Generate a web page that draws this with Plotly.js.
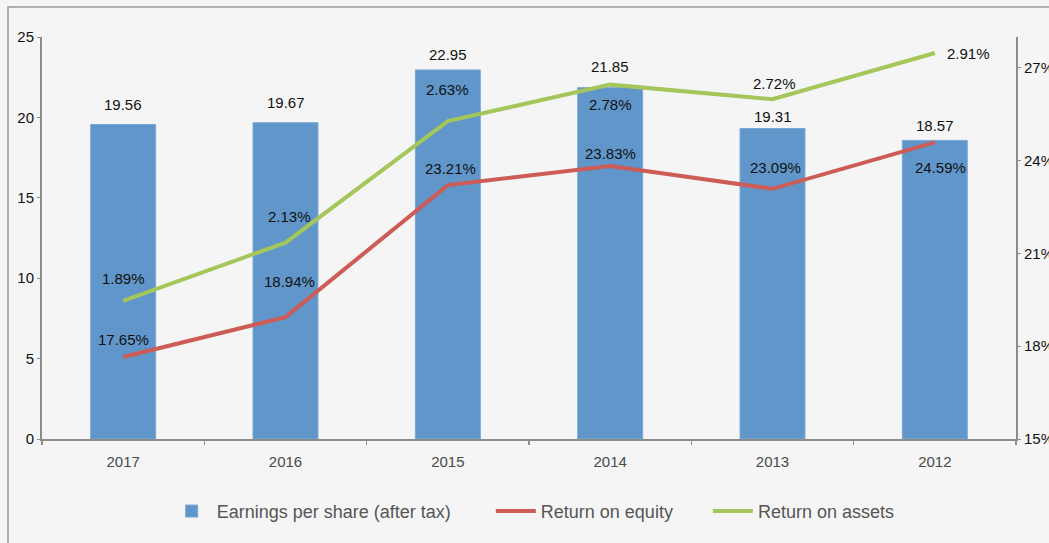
<!DOCTYPE html>
<html>
<head>
<meta charset="utf-8">
<script src="https://cdn.plot.ly/plotly-3.0.1.min.js"></script>
<style>html,body{margin:0;padding:0;background:#f5f5f5;}#chart{width:1049px;height:543px;}</style>
</head>
<body>
<div id="chart"></div>
<script>
// ---- data ----
const years = ['2017', '2016', '2015', '2014', '2013', '2012'];
const eps = [19.56, 19.67, 22.95, 21.85, 19.31, 18.57];
const roe = [17.65, 18.94, 23.21, 23.83, 23.09, 24.59];
const roa = [1.89, 2.13, 2.63, 2.78, 2.72, 2.91];
const roeTicks = [15, 18, 21, 24, 27];

// ---- label offsets (px) ----
const epsShift = [20, 20, 15, 21, 12, 15];
const roeShiftY = [18, 36, 17, 12, 21, -25];
const roeShiftX = [0, 4, 3, 0, 3, 6];
const roaShiftY = [22, 26, 32, -20, 16, 0];
const roaShiftX = [0, 4, 0, 0, 2, 34];

const labelFont = {family: 'Liberation Sans, Arial, sans-serif', size: 15, color: '#111'};
const ann = [];
years.forEach((c, i) => {
  ann.push({x: i, y: eps[i], xref: 'x', yref: 'y', text: eps[i].toFixed(2), showarrow: false,
    yshift: epsShift[i], font: labelFont});
  ann.push({x: i, y: roe[i], xref: 'x', yref: 'y2', text: roe[i].toFixed(2) + '%', showarrow: false,
    yshift: roeShiftY[i], xshift: roeShiftX[i], font: labelFont});
  ann.push({x: i, y: roa[i], xref: 'x', yref: 'y3', text: roa[i].toFixed(2) + '%', showarrow: false,
    yshift: roaShiftY[i], xshift: roaShiftX[i], font: labelFont});
});

const traces = [
  {type: 'bar', x: years, y: eps, name: 'Earnings per share (after tax)' + '\u00a0'.repeat(7), yaxis: 'y',
   width: 0.4, marker: {color: '#6096c9', line: {color: '#7aa8d4', width: 1}}},
  {type: 'scatter', mode: 'lines', x: years, y: roe, name: 'Return on equity' + '\u00a0'.repeat(6), yaxis: 'y2',
   line: {color: '#cd5c57', width: 4}},
  {type: 'scatter', mode: 'lines', x: years, y: roa, name: 'Return on assets', yaxis: 'y3',
   line: {color: '#a5c65a', width: 4}}
];

const axisCol = '#8c8c8c';
const layout = {
  width: 1049, height: 543,
  margin: {l: 42, r: 33, t: 37, b: 104},
  paper_bgcolor: '#f5f5f5', plot_bgcolor: '#f5f5f5',
  font: {family: 'Liberation Sans, Arial, sans-serif', color: '#111'},
  showlegend: true,
  legend: {orientation: 'h', x: 0.128, xanchor: 'left', y: -0.18, yanchor: 'middle',
    font: {size: 18, color: '#555'}, itemwidth: 40, bgcolor: 'rgba(0,0,0,0)', traceorder: 'normal'},
  xaxis: {type: 'category', range: [-0.5, 5.5], autorange: false, showline: true, linecolor: axisCol, linewidth: 2,
    ticks: 'outside', tickson: 'boundaries', ticklen: 4, tickcolor: axisCol, tickwidth: 1.5,
    ticklabelstandoff: 8, tickangle: 0, tickfont: {size: 15, color: '#4a4a4a'}, showgrid: false, zeroline: false},
  yaxis: {range: [0, 25], dtick: 5, showline: true, linecolor: axisCol, linewidth: 2,
    ticks: 'outside', ticklen: 3, tickcolor: axisCol, tickfont: {size: 15, color: '#111'},
    showgrid: false, zeroline: false},
  yaxis2: {overlaying: 'y', side: 'right', range: [15, 28], tickvals: roeTicks,
    ticktext: roeTicks.map(v => v + '%'), showline: true, linecolor: axisCol, linewidth: 2,
    ticks: 'outside', ticklen: 3, tickcolor: axisCol, tickfont: {size: 15, color: '#111'},
    showgrid: false, zeroline: false},
  yaxis3: {overlaying: 'y', range: [1.322, 2.976], visible: false},
  annotations: ann,
  shapes: [{type: 'rect', xref: 'paper', yref: 'paper', x0: -0.0349, x1: 1.2, y0: -0.4, y1: 1.0746,
    line: {color: '#9a9a9a', width: 1.5}, fillcolor: 'rgba(0,0,0,0)', layer: 'below'}]
};

Plotly.newPlot('chart', traces, layout, {staticPlot: true, displayModeBar: false});
</script>
</body>
</html>
